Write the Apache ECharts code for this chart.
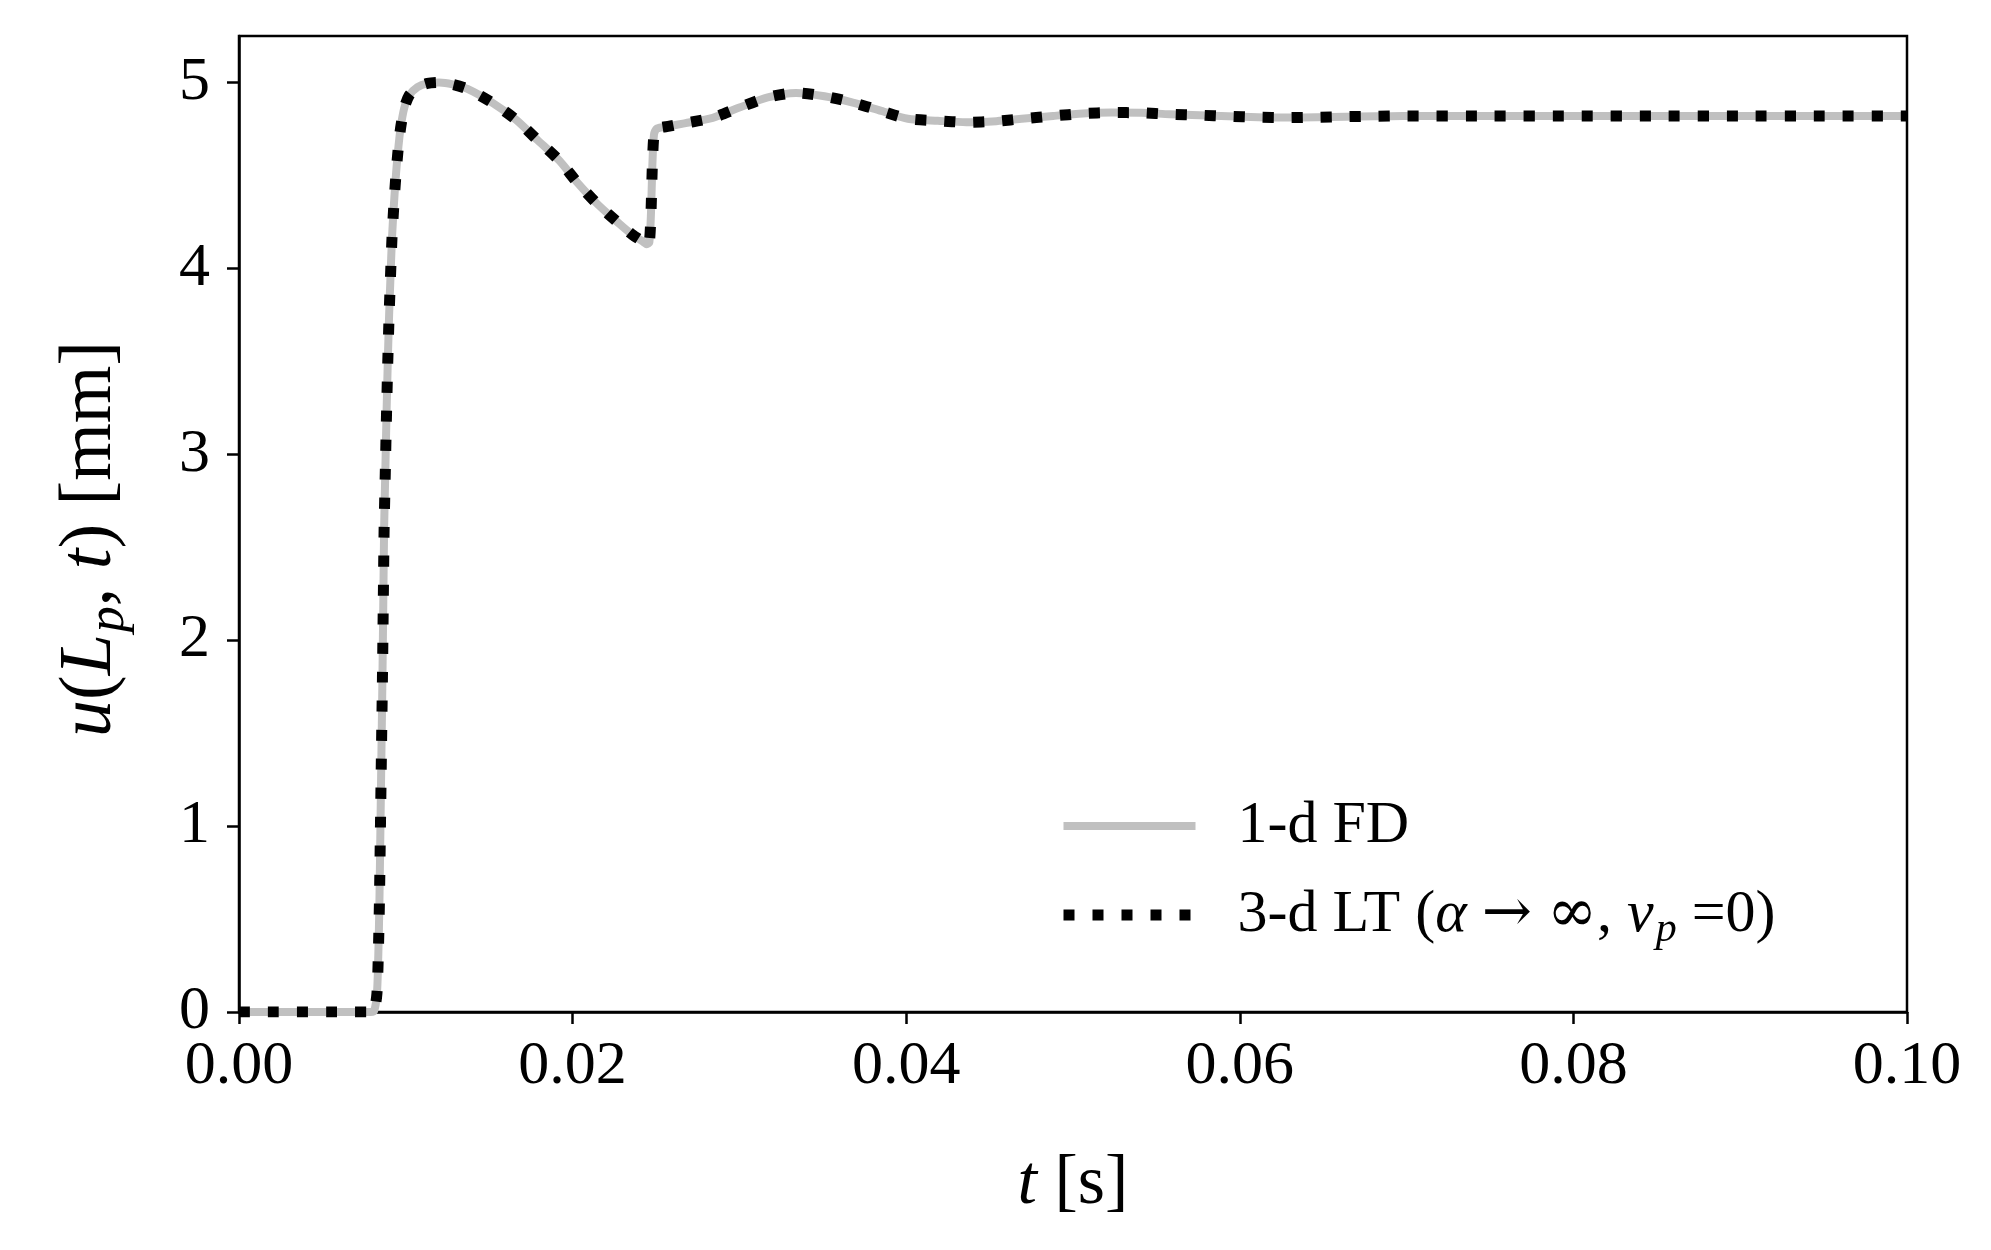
<!DOCTYPE html>
<html>
<head>
<meta charset="utf-8">
<script src="https://cdn.jsdelivr.net/npm/echarts@6/dist/echarts.min.js"></script>
<style>
  html, body { margin: 0; padding: 0; background: #fff; }
  #chart { width: 1991px; height: 1250px; }
</style>
</head>
<body>
<div id="chart"></div>
<script>
// time [s]
var tValues = [
  0, 0.0079, 0.0081, 0.00827, 0.00835, 0.00842, 0.00848, 0.00854, 0.0086, 0.00865,
  0.0087, 0.00877, 0.00884, 0.00892, 0.009, 0.00908, 0.00917, 0.00927, 0.00939, 0.00952,
  0.00968, 0.0099, 0.0102, 0.0107, 0.0113, 0.012, 0.0128, 0.0137, 0.0152, 0.0166,
  0.0179, 0.0192, 0.0203, 0.0215, 0.0228, 0.0236, 0.0242, 0.02445, 0.0246, 0.0247,
  0.02478, 0.02488, 0.02505, 0.0258, 0.0267, 0.0284, 0.03, 0.0317, 0.0334, 0.0351,
  0.0368, 0.0385, 0.0401, 0.0419, 0.0436, 0.0454, 0.0471, 0.0488, 0.0506, 0.0523,
  0.0541, 0.0558, 0.0576, 0.0593, 0.0611, 0.0628, 0.0646, 0.0663, 0.0681, 0.0698,
  0.075, 0.08, 0.085, 0.09, 0.095, 0.1
];
// 1-d finite difference solution u(Lp,t) [mm]
var fdValues = [
  0, 0, 0.005, 0.1, 0.3, 0.6, 1.0, 1.4, 1.8, 2.2,
  2.6, 2.9, 3.2, 3.5, 3.75, 3.95, 4.16, 4.32, 4.48, 4.62,
  4.75, 4.86, 4.93, 4.975, 4.995, 5.0, 4.99, 4.965, 4.89, 4.8,
  4.69, 4.58, 4.46, 4.345, 4.24, 4.18, 4.145, 4.13, 4.14, 4.3,
  4.55, 4.72, 4.752, 4.765, 4.78, 4.81, 4.865, 4.92, 4.944, 4.926,
  4.892, 4.847, 4.805, 4.794, 4.786, 4.792, 4.806, 4.82, 4.833, 4.838,
  4.837, 4.829, 4.824, 4.818, 4.813, 4.811, 4.813, 4.816, 4.818, 4.82,
  4.82, 4.82, 4.82, 4.82, 4.82, 4.82
];
// 3-d Laplace transform solution (overlaps the FD curve)
var ltValues = [
  0, 0, 0.005, 0.1, 0.3, 0.6, 1.0, 1.4, 1.8, 2.2,
  2.6, 2.9, 3.2, 3.5, 3.75, 3.95, 4.16, 4.32, 4.48, 4.62,
  4.75, 4.86, 4.93, 4.975, 4.995, 5.0, 4.99, 4.965, 4.89, 4.8,
  4.69, 4.58, 4.46, 4.345, 4.24, 4.18, 4.145, 4.13, 4.14, 4.3,
  4.55, 4.72, 4.752, 4.765, 4.78, 4.81, 4.865, 4.92, 4.944, 4.926,
  4.892, 4.847, 4.805, 4.794, 4.786, 4.792, 4.806, 4.82, 4.833, 4.838,
  4.837, 4.829, 4.824, 4.818, 4.813, 4.811, 4.813, 4.816, 4.818, 4.82,
  4.82, 4.82, 4.82, 4.82, 4.82, 4.82
];
var xTicks = [0, 0.02, 0.04, 0.06, 0.08, 0.1];
var yTicks = [0, 1, 2, 3, 4, 5];
var seriesNames = ['1-d FD', '3-d LT'];

var serif = '"Liberation Serif", "DejaVu Serif", serif';
var symFont = '"DejaVu Serif", serif';

function pairs(ys) {
  return tValues.map(function (t, i) { return [t, ys[i]]; });
}

var chart = echarts.init(document.getElementById('chart'));
var option = {
  animation: false,
  backgroundColor: '#fff',
  grid: {
    left: 239, right: 84, top: 36, bottom: 238,
    show: true, borderColor: '#000', borderWidth: 2.5
  },
  legend: {
    orient: 'vertical',
    left: 1058, top: 796,
    padding: 0,
    itemWidth: 132, itemHeight: 14, itemGap: 29,
    data: seriesNames,
    itemStyle: { opacity: 0 },
    lineStyle: { width: 'inherit', type: 'inherit', cap: 'butt' },
    formatter: function (name) {
      if (name === '1-d FD') return '{r|1-d FD}';
      return '{r|3-d LT (}{i|α}{r| }{a|→}{r| }{a|∞}{r|, }{i|ν}{s|p}{r| =0)}';
    },
    textStyle: {
      padding: [0, 0, 0, 37],
      rich: {
        r: { fontFamily: serif, fontSize: 60, color: '#000', lineHeight: 70 },
        a: { fontFamily: symFont, fontSize: 60, color: '#000', lineHeight: 70 },
        i: { fontFamily: serif, fontSize: 60, fontStyle: 'italic', color: '#000', lineHeight: 70 },
        s: { fontFamily: serif, fontSize: 42, fontStyle: 'italic', color: '#000', padding: [30, 0, 0, 2] }
      }
    }
  },
  xAxis: {
    type: 'value',
    min: 0, max: 0.1, interval: 0.02,
    name: '{i|t}{r| [s]}',
    nameLocation: 'middle',
    nameGap: 138,
    nameTextStyle: {
      rich: {
        r: { fontFamily: serif, fontSize: 70, color: '#000' },
        i: { fontFamily: serif, fontSize: 70, fontStyle: 'italic', color: '#000' }
      }
    },
    axisLine: { onZero: false, lineStyle: { color: '#000', width: 2.5 } },
    axisTick: { length: 12, lineStyle: { color: '#000', width: 2.5 }, customValues: xTicks },
    axisLabel: {
      customValues: xTicks,
      margin: 24,
      fontFamily: serif, fontSize: 62, color: '#000',
      formatter: function (v) { return v.toFixed(2); }
    },
    splitLine: { show: false }
  },
  yAxis: {
    type: 'value',
    min: 0, max: 5.25, interval: 1,
    name: '{i|u}{r|(}{i|L}{s|p}{r|, }{i|t}{r|) [mm]}',
    nameLocation: 'middle',
    nameRotate: 90,
    nameGap: 104,
    nameTextStyle: {
      padding: [0, 30, 0, 0],
      rich: {
        r: { fontFamily: serif, fontSize: 74, color: '#000' },
        i: { fontFamily: serif, fontSize: 74, fontStyle: 'italic', color: '#000' },
        s: { fontFamily: serif, fontSize: 52, fontStyle: 'italic', color: '#000', padding: [36, 0, 0, 2] }
      }
    },
    axisLine: { show: true, lineStyle: { color: '#000', width: 2.5 } },
    axisTick: { show: true, length: 12, lineStyle: { color: '#000', width: 2.5 }, customValues: yTicks },
    axisLabel: {
      customValues: yTicks,
      margin: 29,
      fontFamily: serif, fontSize: 62, color: '#000'
    },
    splitLine: { show: false }
  },
  series: [
    {
      name: seriesNames[0],
      type: 'line',
      data: pairs(fdValues),
      showSymbol: false,
      symbol: 'none',
      smooth: 0.25,
      lineStyle: { color: '#c0c0c0', width: 8, join: 'round' },
      itemStyle: { color: '#c0c0c0' },
      z: 2
    },
    {
      name: seriesNames[1],
      type: 'line',
      data: pairs(ltValues),
      showSymbol: false,
      symbol: 'none',
      smooth: 0.25,
      lineStyle: { color: '#000', width: 11, type: [11, 18], cap: 'butt', join: 'miter' },
      itemStyle: { color: '#000' },
      z: 3
    }
  ]
};
chart.setOption(option);
</script>
</body>
</html>
